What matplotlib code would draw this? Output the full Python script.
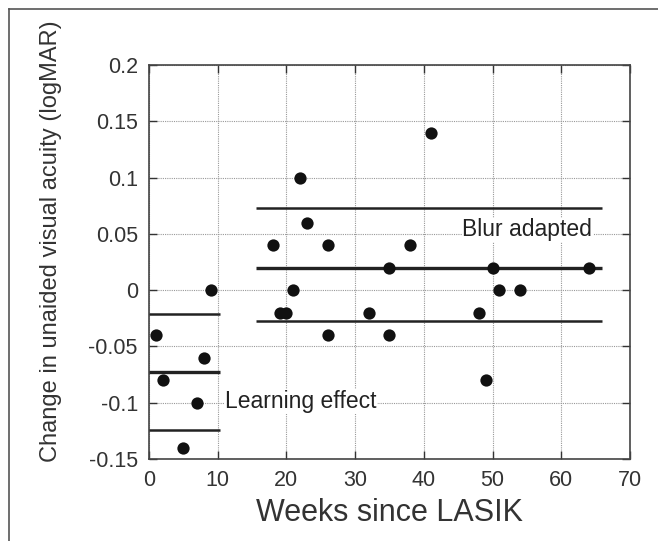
import matplotlib.pyplot as plt
from matplotlib.lines import Line2D

plt.rcParams['font.family'] = ['Liberation Sans', 'DejaVu Sans']

# Individual eyes: weeks since LASIK vs change in UCVA
weeks = [1, 2, 5, 7, 8, 9, 18, 19, 20, 21, 22, 23, 26, 26, 32, 35, 35, 38,
         41, 48, 49, 50, 51, 54, 64]
change = [-0.04, -0.08, -0.14, -0.10, -0.06, 0.0, 0.04, -0.02, -0.02, 0.0,
          0.10, 0.06, 0.04, -0.04, -0.02, 0.02, -0.04, 0.04, 0.14, -0.02,
          -0.08, 0.02, 0.0, 0.0, 0.02]

# Group means and +/- bounds
learn_span = [0, 10.3]
learn_levels = [-0.021, -0.073, -0.124]
blur_span = [15.6, 65.9]
blur_levels = [0.073, 0.02, -0.027]

fig = plt.figure(figsize=(6.58, 5.41), dpi=100)
ax = fig.add_axes([0.2264, 0.1516, 0.731, 0.7283])

for i, y in enumerate(learn_levels):
    ax.plot(learn_span, [y, y], color='#222222', lw=2.4 if i == 1 else 1.8,
            solid_capstyle='butt', zorder=3)
for i, y in enumerate(blur_levels):
    ax.plot(blur_span, [y, y], color='#222222', lw=2.4 if i == 1 else 1.8,
            solid_capstyle='butt', zorder=3)

ax.scatter(weeks, change, s=78, color='#111111', zorder=4, linewidths=0)

ax.text(45.6, 0.0535, 'Blur adapted', fontsize=16.5, va='center', ha='left',
        color='#222222', zorder=5,
        bbox=dict(facecolor='white', edgecolor='none', pad=0.5))
ax.text(11.1, -0.099, 'Learning effect', fontsize=16.5, va='center',
        ha='left', color='#222222', zorder=5,
        bbox=dict(facecolor='white', edgecolor='none', pad=0.5))

ax.set_xlim(0, 70)
ax.set_ylim(-0.15, 0.2)
ax.set_xticks(range(0, 71, 10))
ax.set_yticks([-0.15, -0.1, -0.05, 0, 0.05, 0.1, 0.15, 0.2])
ax.set_yticklabels(['-0.15', '-0.1', '-0.05', '0', '0.05', '0.1', '0.15', '0.2'])
ax.tick_params(direction='in', top=True, right=True, length=6, width=1,
               labelsize=15.5, colors='#333333', pad=8)
ax.grid(True, linestyle=(0, (1, 1)), color='#999999', linewidth=0.8)
for sp in ax.spines.values():
    sp.set_color('#444444')
    sp.set_linewidth(1.2)

ax.set_xlabel('Weeks since LASIK', fontsize=22, color='#333333', labelpad=5)
ax.set_ylabel('Change in unaided visual acuity (logMAR)', fontsize=17,
              color='#333333')
ax.yaxis.set_label_coords(-0.181, 0.553)

# outer frame (top and left edges visible)
fig.add_artist(Line2D([9 / 658, 1], [1 - 9 / 541, 1 - 9 / 541],
                      color='#555555', lw=1.2, transform=fig.transFigure))
fig.add_artist(Line2D([9 / 658, 9 / 658], [0, 1 - 9 / 541],
                      color='#555555', lw=1.2, transform=fig.transFigure))

fig.savefig('out.png', dpi=100)
